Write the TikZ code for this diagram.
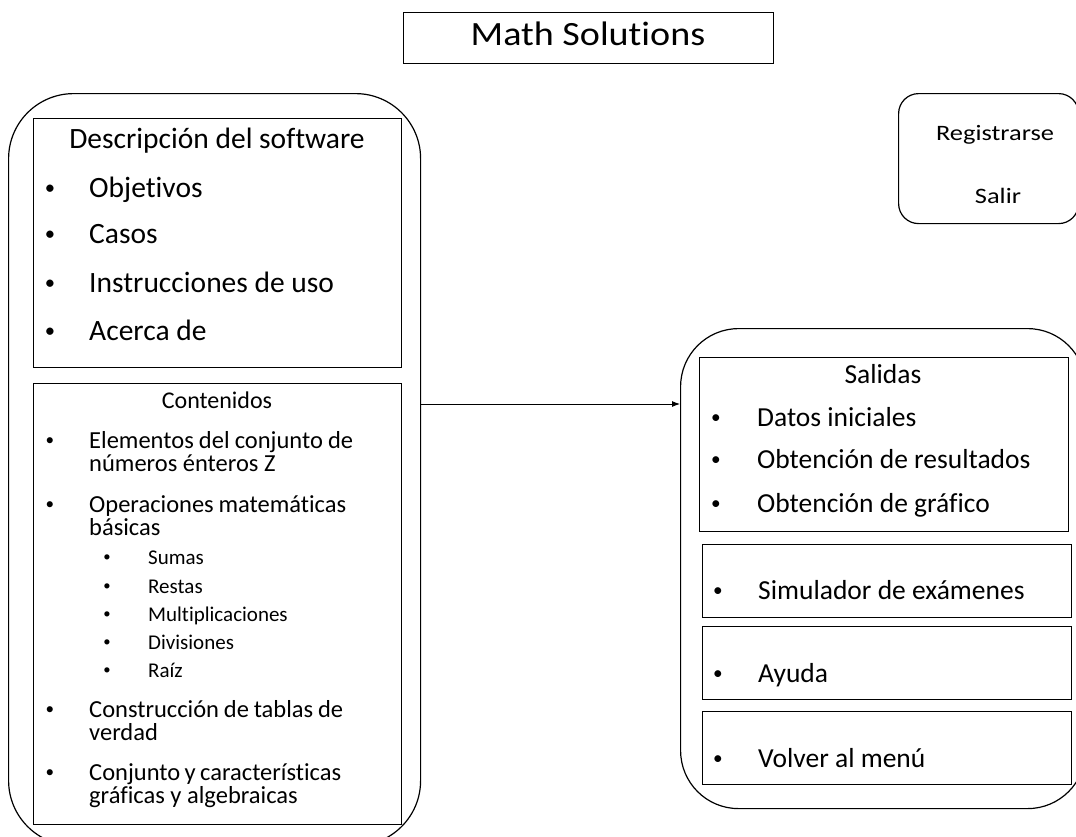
\documentclass[tikz,border=0pt]{standalone}
\usepackage{fontspec}
\setmainfont{Carlito}[Ligatures=NoCommon]
\usetikzlibrary{arrows.meta}

\tikzset{
	panel/.style={draw, line width=1.2pt, rounded corners=#1, anchor=north west, inner sep=0pt},
	box/.style={draw, line width=1.2pt, anchor=north west, inner sep=0pt},
	heading/.style={anchor=base, inner sep=0pt, font=\fontsize{#1}{#1}\selectfont},
	link/.style={line width=0.9pt, -{Latex[length=8pt,width=6pt]}}
}

\newcommand{\entry}[6] % name, bullet x, text x, baseline y, size in pt, text
{
	% bullet, a bit smaller and raised
	\pgfmathsetmacro{\dotsize}{0.7*#5}
	\node[anchor=base, inner sep=0pt, font=\fontsize{\dotsize}{\dotsize}\selectfont] (#1dot) at (#2,#4-0.1*#5) {\textbullet};
	% label, first line on the baseline
	\node[anchor=base west, inner sep=0pt, font=\fontsize{#5}{22}\selectfont] (#1) at (#3,#4)
		{\begin{tabular}[t]{@{}l@{}}#6\end{tabular}};
}

\begin{document}
\begin{tikzpicture}[x=1pt, y=-1pt]
	% 1076 x 836 px, 1px = 1pt
	\useasboundingbox (0,0) rectangle (1076,836);
	\clip (0,0) rectangle (1076,836);
	% title
	\node[box, minimum width=370pt, minimum height=51pt] (title) at (403,12) {};
	\node[heading=34, xscale=1.12] (titletext) at (588,45) {Math Solutions};
	% main menu - left panel
	\node[panel=65pt, minimum width=412pt, minimum height=752pt] (menu) at (8,93) {};
	\node[box, minimum width=368pt, minimum height=249pt] (desc) at (33,118) {};
	\node[box, minimum width=368pt, minimum height=441pt] (contents) at (33,383) {};
	% description of the software
	\node[heading=29.5] (desctitle) at (217,148) {Descripción del software};
	\entry{goals}{50}{89}{197}{29.5}{Objetivos};
	\entry{cases}{50}{89}{243}{29.5}{Casos};
	\entry{usage}{50}{89}{292}{29.5}{Instrucciones de uso};
	\entry{about}{50}{89}{340}{29.5}{Acerca de};
	% contents
	\node[heading=24] (contitle) at (217,408) {Contenidos};
	\entry{integers}{50}{89}{448}{24.5}{\makebox[264pt][s]{Elementos del conjunto de}\\números énteros Z};
	\entry{operations}{50}{89}{512}{24.5}{\makebox[257pt][s]{Operaciones matemáticas}\\básicas};
	\entry{sums}{107}{148}{564}{21}{Sumas};
	\entry{subtractions}{107}{148}{593}{21}{Restas};
	\entry{products}{107}{148}{621}{21}{Multiplicaciones};
	\entry{divisions}{107}{148}{649}{21}{Divisiones};
	\entry{roots}{107}{148}{677}{21}{Raíz};
	\entry{tables}{50}{89}{717}{24.5}{\makebox[254pt][s]{Construcción de tablas de}\\verdad};
	\entry{sets}{50}{89}{780}{24.5}{\makebox[252pt][s]{Conjunto y características}\\gráficas y algebraicas};
	% access panel
	\node[panel=20pt, minimum width=180pt, minimum height=130pt] (access) at (898,93) {};
	\node[heading=22, xscale=1.2] (register) at (995,140) {Registrarse};
	\node[heading=22, xscale=1.2] (quit) at (998,203) {Salir};
	% outputs - right panel
	\node[panel=58pt, minimum width=405pt, minimum height=480pt] (outputs) at (680,328) {};
	\node[box, minimum width=369pt, minimum height=174pt] (results) at (699,357) {};
	\node[box, minimum width=369pt, minimum height=73pt] (exam) at (702,544) {};
	\node[box, minimum width=369pt, minimum height=73pt] (help) at (702,626) {};
	\node[box, minimum width=369pt, minimum height=73pt] (back) at (702,711) {};
	\node[heading=27.5] (restitle) at (883,383) {Salidas};
	\entry{initial}{716}{757}{426}{27.5}{Datos iniciales};
	\entry{obtained}{716}{757}{468}{27.5}{Obtención de resultados};
	\entry{graph}{716}{757}{512}{27.5}{Obtención de gráfico};
	\entry{examtext}{718}{758}{599}{27.5}{Simulador de exámenes};
	\entry{helptext}{718}{758}{682}{27.5}{Ayuda};
	\entry{backtext}{718}{758}{767}{27.5}{Volver al menú};
	% link from menu to outputs
	\coordinate (linky) at (0,404);
	\draw[link] (menu.east |- linky) -- (outputs.west |- linky);
\end{tikzpicture}
\end{document}
